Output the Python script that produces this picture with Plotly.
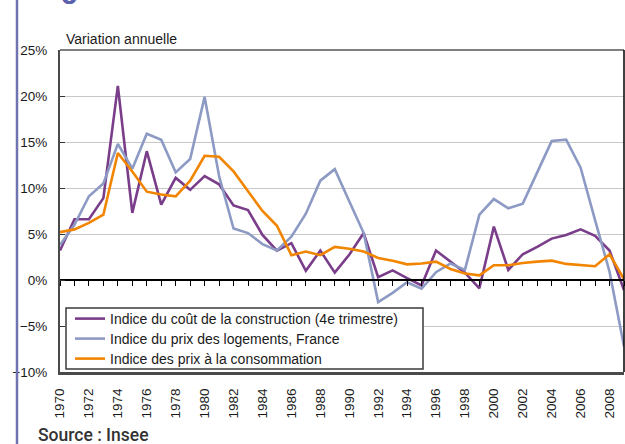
"""Variation annuelle: construction cost, housing prices and consumer prices, 1970-2009."""

import plotly.graph_objects as go

INK = "#1a1a1a"
GRID = "#c8c8c8"
FRAME = "#4a4a4a"
BORDER = "#6f74b0"
FONT = "Liberation Sans, Arial, sans-serif"

PURPLE = "#7a3d8a"
GREYBLUE = "#8c9ac4"
ORANGE = "#f28500"

years = list(range(1970, 2010))
label_years = years[::2]

construction = [
    3.2, 6.6, 6.6, 8.9, 21.1, 7.3, 14.0, 8.2, 11.1, 9.8,
    11.3, 10.4, 8.1, 7.6, 4.9, 3.2, 4.0, 1.0, 3.2, 0.8,
    2.75, 5.1, 0.3, 1.05, 0.2, -0.6, 3.2, 2.0, 0.8, -0.9,
    5.8, 1.1, 2.8, 3.6, 4.5, 4.9, 5.5, 4.8, 3.2, -1.1,
]
logements = [
    3.8, 6.0, 9.1, 10.5, 14.8, 12.1, 15.9, 15.25, 11.7, 13.15,
    19.9, 11.3, 5.6, 5.1, 3.9, 3.2, 4.7, 7.2, 10.8, 12.05,
    8.55, 5.1, -2.4, -1.4, -0.25, -0.95, 0.85, 1.8, 1.1, 7.1,
    8.8, 7.8, 8.3, 11.7, 15.1, 15.25, 12.2, 6.5, 0.9, -7.2,
]
consommation = [
    5.2, 5.5, 6.2, 7.1, 13.8, 11.8, 9.6, 9.3, 9.1, 10.8,
    13.5, 13.4, 11.8, 9.6, 7.5, 5.9, 2.7, 3.1, 2.7, 3.6,
    3.4, 3.1, 2.4, 2.1, 1.7, 1.8, 2.0, 1.2, 0.7, 0.5,
    1.6, 1.6, 1.85, 2.0, 2.1, 1.75, 1.6, 1.5, 2.8, 0.1,
]

series = [
    ("Indice du coût de la construction (4e trimestre)", construction, PURPLE, "x"),
    ("Indice du prix des logements, France", logements, GREYBLUE, "x"),
    ("Indice des prix à la consommation", consommation, ORANGE, "x2"),
]

Y_MIN, Y_MAX = -10, 25
PLOT_W, PLOT_H = 564, 322  # plot area in px, used to place paper-referenced items

fig = go.Figure()
legend_ids = ["legend", "legend2", "legend3"]
for (name, values, color, xref), leg in zip(series, legend_ids):
    fig.add_trace(
        go.Scatter(
            x=years,
            y=values,
            name=name,
            mode="lines",
            line={"color": color, "width": 2.6},
            xaxis=xref,
            yaxis="y",
            legend=leg,
            hovertemplate="%{x}<br>%{y:.1f}%<extra></extra>",
        )
    )

# one legend per entry so the rows sit 20px apart like the original
legend_style = {
    "xanchor": "left",
    "yanchor": "middle",
    "bgcolor": "rgba(0,0,0,0)",
    "borderwidth": 0,
    "font": {"size": 14, "color": INK},
}
legend_rows_px = [319, 339, 359]
legends = {
    leg: {**legend_style, "x": 10 / PLOT_W, "y": (372 - row) / PLOT_H}
    for leg, row in zip(legend_ids, legend_rows_px)
}

fig.update_layout(
    width=625,
    height=444,
    paper_bgcolor="white",
    plot_bgcolor="white",
    font={"family": FONT, "size": 13.5, "color": INK},
    margin={"l": 60, "r": 1, "t": 50, "b": 72, "autoexpand": False},
    xaxis={
        "range": [years[0], years[-1]],
        "tickvals": label_years,
        "ticktext": [str(y) for y in label_years],
        "tickangle": -90,
        "ticks": "",
        "ticklabelstandoff": 8,
        "showgrid": False,
        "zeroline": False,
        "showline": True,
        "linecolor": FRAME,
        "linewidth": 3,
    },
    # year tick marks sit on the 0% baseline
    xaxis2={
        "overlaying": "x",
        "anchor": "free",
        "position": (0 - Y_MIN) / (Y_MAX - Y_MIN),
        "side": "bottom",
        "range": [years[0], years[-1]],
        "tick0": years[0],
        "dtick": 1,
        "ticks": "outside",
        "ticklen": 5,
        "tickwidth": 1,
        "tickcolor": "black",
        "showticklabels": False,
        "showgrid": False,
        "zeroline": False,
        "showline": True,
        "linecolor": "black",
        "linewidth": 1.5,
    },
    yaxis={
        "range": [Y_MIN, Y_MAX],
        "dtick": 5,
        "ticksuffix": "%",
        "ticks": "inside",
        "ticklen": 5,
        "tickcolor": "#333333",
        "ticklabelstandoff": 8,
        "showgrid": True,
        "gridcolor": GRID,
        "gridwidth": 1,
        "zeroline": False,
        "showline": True,
        "linecolor": FRAME,
        "linewidth": 2,
    },
    showlegend=True,
    shapes=[
        # thin black top and right edges of the frame
        {"type": "line", "xref": "x domain", "yref": "y domain",
         "x0": 0, "x1": 1, "y0": 1, "y1": 1, "line": {"color": "black", "width": 1}},
        {"type": "line", "xref": "x domain", "yref": "y domain",
         "x0": 1, "x1": 1, "y0": 0, "y1": 1, "line": {"color": "black", "width": 1.5}},
        # legend box
        {"type": "rect", "xref": "paper", "yref": "paper",
         "x0": 6 / PLOT_W, "x1": 363 / PLOT_W, "y0": 3 / PLOT_H, "y1": 64 / PLOT_H,
         "fillcolor": "white", "line": {"color": "#3a3a3a", "width": 1.5}, "layer": "above"},
        # page border on the left
        {"type": "line", "xref": "paper", "yref": "paper",
         "x0": -43 / PLOT_W, "x1": -43 / PLOT_W, "y0": -72 / PLOT_H, "y1": 372 / PLOT_H,
         "line": {"color": BORDER, "width": 2.5}},
    ],
    annotations=[
        {"text": "Variation annuelle", "xref": "paper", "yref": "paper",
         "x": 4 / PLOT_W, "y": 1, "xanchor": "left", "yanchor": "bottom", "yshift": 1,
         "showarrow": False, "font": {"size": 14, "color": INK}},
        {"text": "Source : Insee", "xref": "paper", "yref": "paper",
         "x": -24 / PLOT_W, "y": -72 / PLOT_H, "xanchor": "left", "yanchor": "bottom",
         "yshift": -3,
         "showarrow": False, "font": {"family": "Roboto, sans-serif", "size": 17.5,
                                      "color": "#333333", "weight": 500}},
        # foot of the cropped page heading above the chart
        {"text": "o", "xref": "paper", "yref": "paper",
         "x": 9 / PLOT_W, "y": (372 - 12) / PLOT_H, "xanchor": "center", "yanchor": "bottom",
         "showarrow": False, "font": {"family": "DejaVu Sans, sans-serif", "size": 24,
                                      "color": "#5a62ad", "weight": "bold"}},
    ],
    **legends,
)

# the page body's default 8px margin would shift the whole chart
fig.write_html(
    "out.html",
    config={"displayModeBar": False},
    post_script="document.body.style.margin = '0';",
)
